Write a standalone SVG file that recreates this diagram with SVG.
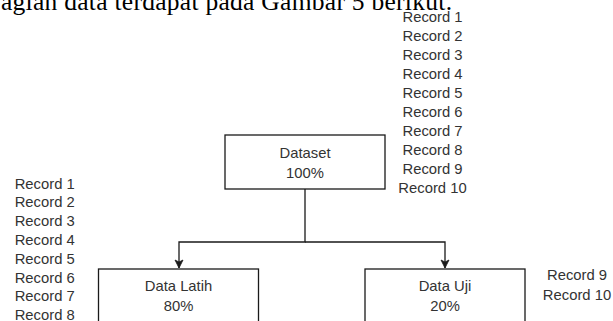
<svg xmlns="http://www.w3.org/2000/svg" width="613" height="321" viewBox="0 0 613 321">
<style>
.bg{fill:#fff}
.box{fill:#fff;stroke:#1a1a1a;stroke-width:1.3}
.lbl{font-family:"Liberation Sans",Arial,sans-serif;font-size:14.8px;fill:#333;text-anchor:middle}
.rec{font-family:"Liberation Sans",Arial,sans-serif;font-size:14.8px;fill:#333;text-anchor:middle}
.edge{fill:none;stroke:#1a1a1a;stroke-width:1.3}
.cap{font-family:"Liberation Serif","Times New Roman",serif;font-size:25.5px;fill:#000}
</style>
<defs>
<marker id="arr" markerUnits="userSpaceOnUse" markerWidth="10" markerHeight="10" refX="9" refY="5" orient="auto">
<path d="M1,1 L9,5 L1,9 L3,5 z" fill="#1a1a1a" stroke="#1a1a1a" stroke-width="0.8"/>
</marker>
</defs>
<rect class="bg" x="0" y="0" width="613" height="321"/>
<text class="cap" x="1" y="10" textLength="451" lengthAdjust="spacing">agian data terdapat pada Gambar 5 berikut.</text>
<g id="connectors">
<path class="edge" d="M305,189 V242 H179 V268" marker-end="url(#arr)"/>
<path class="edge" d="M305,242 H445 V268" marker-end="url(#arr)"/>
</g>
<g id="dataset">
<rect class="box" x="225" y="135" width="160" height="54"/>
<text class="lbl" x="305" y="158">Dataset</text>
<text class="lbl" x="305" y="178">100%</text>
</g>
<g id="data-latih">
<rect class="box" x="98.5" y="269" width="160" height="60"/>
<text class="lbl" x="178.5" y="290.5">Data Latih</text>
<text class="lbl" x="178.5" y="311">80%</text>
</g>
<g id="data-uji">
<rect class="box" x="365" y="269" width="160" height="60"/>
<text class="lbl" x="445" y="290.5">Data Uji</text>
<text class="lbl" x="445" y="311">20%</text>
</g>
<g id="records-all">
<text class="rec" x="432.5" y="22">Record 1</text>
<text class="rec" x="432.5" y="41">Record 2</text>
<text class="rec" x="432.5" y="60">Record 3</text>
<text class="rec" x="432.5" y="79">Record 4</text>
<text class="rec" x="432.5" y="98">Record 5</text>
<text class="rec" x="432.5" y="117">Record 6</text>
<text class="rec" x="432.5" y="136">Record 7</text>
<text class="rec" x="432.5" y="155">Record 8</text>
<text class="rec" x="432.5" y="174">Record 9</text>
<text class="rec" x="432.5" y="193">Record 10</text>
</g>
<g id="records-latih">
<text class="rec" x="44.7" y="188.5">Record 1</text>
<text class="rec" x="44.7" y="207.3">Record 2</text>
<text class="rec" x="44.7" y="226.1">Record 3</text>
<text class="rec" x="44.7" y="244.9">Record 4</text>
<text class="rec" x="44.7" y="263.7">Record 5</text>
<text class="rec" x="44.7" y="282.5">Record 6</text>
<text class="rec" x="44.7" y="301.3">Record 7</text>
<text class="rec" x="44.7" y="320.1">Record 8</text>
</g>
<g id="records-uji">
<text class="rec" x="577" y="280.3">Record 9</text>
<text class="rec" x="577" y="299.5">Record 10</text>
</g>
</svg>
